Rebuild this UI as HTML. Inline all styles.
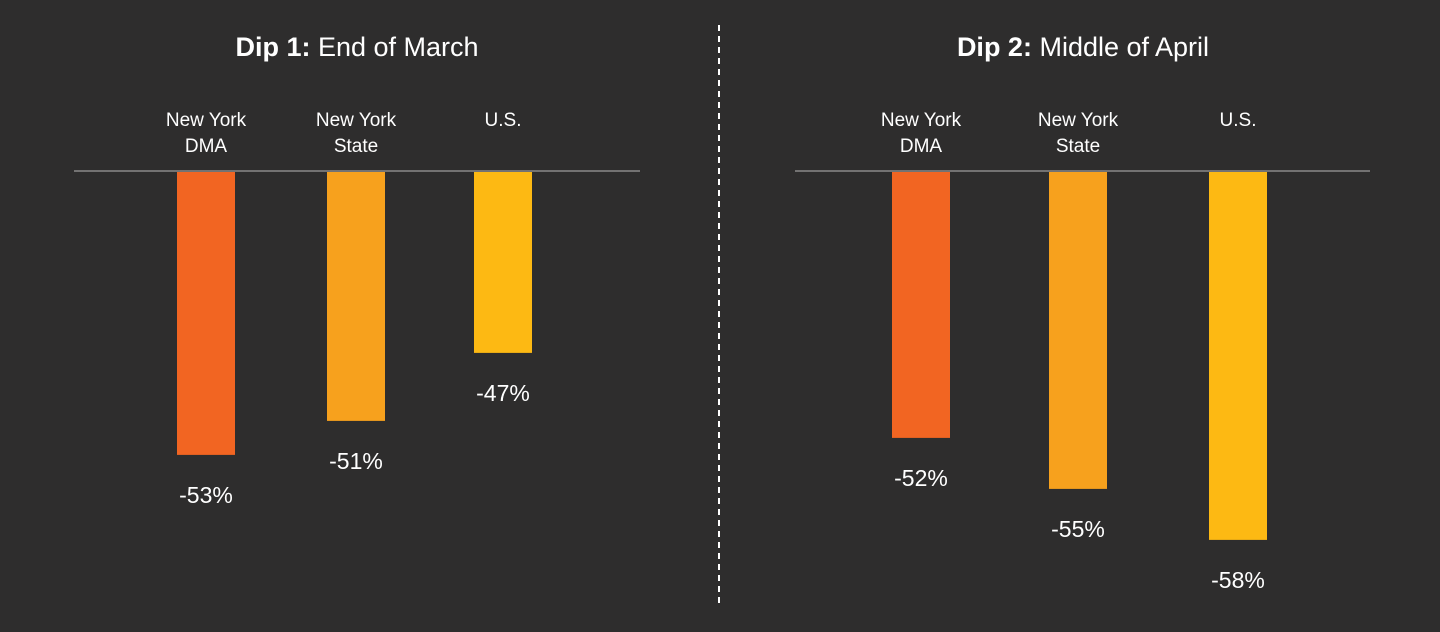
<!DOCTYPE html>
<html><head><meta charset="utf-8"><style>
html,body{margin:0;padding:0;background:#2e2d2d;}
svg{display:block;font-family:"Liberation Sans",sans-serif;}
</style></head><body>
<svg id="chart" width="1440" height="632" viewBox="0 0 1440 632">
<rect width="1440" height="632" fill="#2e2d2d"/>
<line x1="719" y1="25" x2="719" y2="608" stroke="#ffffff" stroke-width="2" stroke-dasharray="6,5"/>
<text x="357" y="56" text-anchor="middle" fill="#fff" font-size="27"><tspan font-weight="bold">Dip 1:</tspan> End of March</text>
<text x="1083" y="56" text-anchor="middle" fill="#fff" font-size="27"><tspan font-weight="bold">Dip 2:</tspan> Middle of April</text>
<g id="marks"></g>
</svg>
<script>
const categories = ["New York|DMA", "New York|State", "U.S."];
const dip1Values = [-53, -51, -47];
const dip2Values = [-52, -55, -58];
const panels = [
  {name:"dip-1", values: dip1Values, xs:[206,356,503], x1:74, x2:640},
  {name:"dip-2", values: dip2Values, xs:[921,1078,1238], x1:795, x2:1370}
];
const colors = ["#f26522","#f7a11d","#fdb913"];
const baseline = 171;
function yScale(v){ return baseline + (-v - 36.3) * 17; }
const NS = "http://www.w3.org/2000/svg";
const g = document.getElementById("marks");
panels.forEach(p => {
  const ln = document.createElementNS(NS,"line");
  ln.setAttribute("x1",p.x1); ln.setAttribute("x2",p.x2);
  ln.setAttribute("y1",baseline); ln.setAttribute("y2",baseline);
  ln.setAttribute("stroke","#8a8a8a"); ln.setAttribute("stroke-width","1.5");
  
  
  g.appendChild(ln);
  p.values.forEach((v,i) => {
    const cx = p.xs[i];
    const y = yScale(v);
    const r = document.createElementNS(NS,"rect");
    r.setAttribute("x", cx-29); r.setAttribute("width", 58);
    r.setAttribute("y", baseline+1); r.setAttribute("height", y-baseline-1);
    r.setAttribute("fill", colors[i]);
    
    
    g.appendChild(r);
    const t = document.createElementNS(NS,"text");
    t.setAttribute("x", cx); t.setAttribute("y", y+48);
    t.setAttribute("text-anchor","middle"); t.setAttribute("fill","#fff");
    t.setAttribute("font-size","23");
    t.textContent = v + "%";
    
    
    g.appendChild(t);
    const lines = categories[i].split("|");
    lines.forEach((s,k) => {
      const c = document.createElementNS(NS,"text");
      c.setAttribute("x", cx); c.setAttribute("y", 126 + k*26);
      c.setAttribute("text-anchor","middle"); c.setAttribute("fill","#fff");
      c.setAttribute("font-size","19");
      c.textContent = s;
      
      
      g.appendChild(c);
    });
  });
});
</script>
</body></html>
